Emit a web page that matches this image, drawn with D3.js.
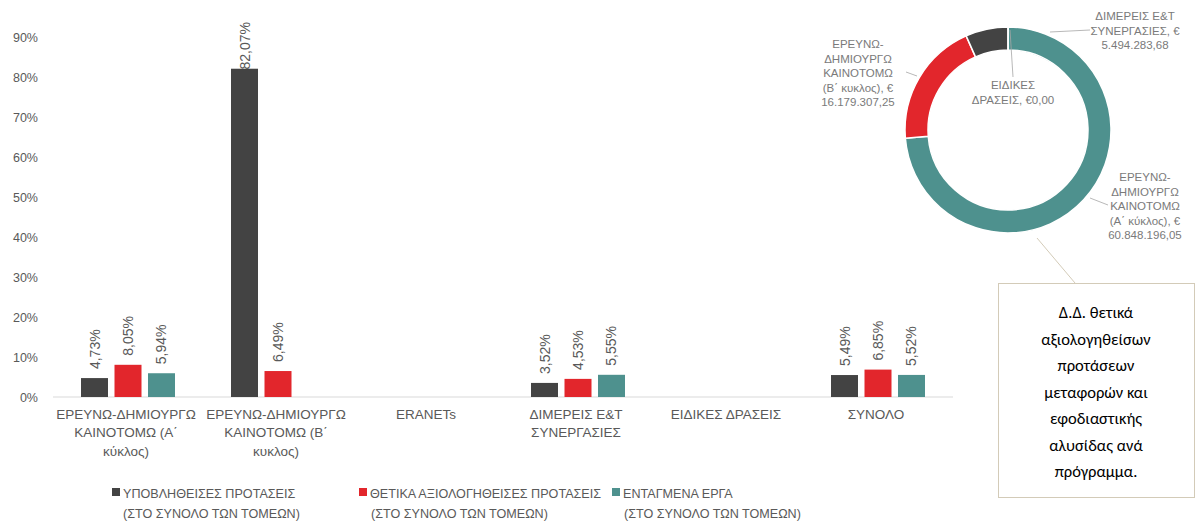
<!DOCTYPE html>
<html><head><meta charset="utf-8">
<script src="https://cdn.jsdelivr.net/npm/d3@7"></script>
<style>
body{margin:0;background:#fff;}
svg{display:block;}
text{font-family:"Liberation Sans",Arial,sans-serif;}
</style></head>
<body>
<svg id="c" width="1196" height="525"></svg>
<script>
// ---------- data ----------
const categories = [
  ["ΕΡΕΥΝΩ-ΔΗΜΙΟΥΡΓΩ","ΚΑΙΝΟΤΟΜΩ (Α΄","κύκλος)"],
  ["ΕΡΕΥΝΩ-ΔΗΜΙΟΥΡΓΩ","ΚΑΙΝΟΤΟΜΩ (Β΄","κυκλος)"],
  ["ERANETs"],
  ["ΔΙΜΕΡΕΙΣ Ε&Τ","ΣΥΝΕΡΓΑΣΙΕΣ"],
  ["ΕΙΔΙΚΕΣ ΔΡΑΣΕΙΣ"],
  ["ΣΥΝΟΛΟ"]
];
const seriesNames = [
  ["ΥΠΟΒΛΗΘΕΙΣΕΣ ΠΡΟΤΑΣΕΙΣ","(ΣΤΟ ΣΥΝΟΛΟ ΤΩΝ ΤΟΜΕΩΝ)"],
  ["ΘΕΤΙΚΑ ΑΞΙΟΛΟΓΗΘΕΙΣΕΣ ΠΡΟΤΑΣΕΙΣ","(ΣΤΟ ΣΥΝΟΛΟ ΤΩΝ ΤΟΜΕΩΝ)"],
  ["ΕΝΤΑΓΜΕΝΑ ΕΡΓΑ","(ΣΤΟ ΣΥΝΟΛΟ ΤΩΝ ΤΟΜΕΩΝ)"]
];
const submitted = [4.73, 82.07, null, 3.52, null, 5.49];
const positive  = [8.05, 6.49, null, 4.53, null, 6.85];
const funded    = [5.94, null, null, 5.55, null, 5.52];
const yTicks = [0,10,20,30,40,50,60,70,80,90];

const donutLabels = [
  ["ΕΡΕΥΝΩ-","ΔΗΜΙΟΥΡΓΩ","ΚΑΙΝΟΤΟΜΩ","(Α΄ κύκλος), €","60.848.196,05"],
  ["ΕΡΕΥΝΩ-","ΔΗΜΙΟΥΡΓΩ","ΚΑΙΝΟΤΟΜΩ","(Β΄ κυκλος), €","16.179.307,25"],
  ["ΔΙΜΕΡΕΙΣ Ε&Τ","ΣΥΝΕΡΓΑΣΙΕΣ, €","5.494.283,68"],
  ["ΕΙΔΙΚΕΣ","ΔΡΑΣΕΙΣ, €0,00"]
];
const donutValues = [60848196.05, 16179307.25, 5494283.68, 0];
const calloutLines = ["Δ.Δ. θετικά","αξιολογηθείσων","προτάσεων","μεταφορών και","εφοδιαστικής","αλυσίδας ανά","πρόγραμμα."];

// ---------- styles ----------
const colors = ["#434343","#E2262C","#4E918E"];
const donutColors = ["#4E918E","#E2262C","#434343","#7f7f7f"];
const textGrey = "#595959";

const svg = d3.select("#c");

// ---------- bar chart ----------
const seriesData = [submitted, positive, funded];
const x = d3.scaleBand().domain(d3.range(categories.length)).range([53, 953]);
const xs = d3.scaleBand().domain([0,1,2]).range([0,94]).paddingInner(0.194);
const y = d3.scaleLinear().domain([0,90]).range([397,37]);

// y axis labels
const yAxis = d3.axisLeft(y).tickValues(yTicks).tickFormat(d => d + "%").tickSize(0).tickPadding(0);
const yg = svg.append("g").attr("transform","translate(38,0)").call(yAxis);
yg.select(".domain").remove();
yg.selectAll("text").attr("fill", textGrey).style("font-size","12.5px").style("font-family","Liberation Sans, Arial, sans-serif");

// baseline
svg.append("line").attr("x1",53).attr("x2",953).attr("y1",y(0)).attr("y2",y(0))
  .attr("stroke","#d9d9d9").attr("stroke-width",1);

// bars
seriesData.forEach((vals, si) => {
  vals.forEach((v, ci) => {
    if (v == null) return;
    const bx = x(ci) + x.bandwidth()/2 - 47 + xs(si);
    svg.append("rect").attr("x", bx).attr("y", y(v)).attr("width", xs.bandwidth())
      .attr("height", y(0) - y(v)).attr("fill", colors[si]);
  });
});
// bar labels
seriesData.forEach((vals, si) => {
  vals.forEach((v, ci) => {
    if (v == null) return;
    const cx = x(ci) + x.bandwidth()/2 - 47 + xs(si) + xs.bandwidth()/2;
    const t = svg.append("text").attr("text-anchor","start").attr("dominant-baseline","central")
      .attr("fill", textGrey).style("font-size","14px")
      .text(d3.format(".2f")(v).replace(".", ",") + "%");
    const len = t.node().getComputedTextLength();
    let by = y(v) - 9;
    if (by - len < 22) by = 22 + len;
    t.attr("transform", `translate(${cx},${by}) rotate(-90)`);
  });
});

// x labels
categories.forEach((lines, ci) => {
  const cx = x(ci) + x.bandwidth()/2 - 2;
  const t = svg.append("text").attr("text-anchor","middle").attr("fill", textGrey).style("font-size","13.5px");
  lines.forEach((l, i) => t.append("tspan").attr("x", cx).attr("y", 418.5 + i*18.5).text(l));
});

// legend
const legendX = [112, 359, 612];
seriesNames.forEach((lines, si) => {
  const lx = legendX[si];
  svg.append("rect").attr("x", lx).attr("y", 488).attr("width", 8).attr("height", 8).attr("fill", colors[si]);
  svg.append("text").attr("x", lx + 11).attr("y", 497.5).attr("fill", textGrey).style("font-size","12.6px").text(lines[0]);
  svg.append("text").attr("x", lx + (si === 0 ? 11 : 12)).attr("y", 517.5).attr("fill", textGrey).style("font-size","12.6px").text(lines[1]);
});

// ---------- donut ----------
const dcx = 1008, dcy = 130;
const pie = d3.pie().sort(null).value(d => d);
const arc = d3.arc().innerRadius(80).outerRadius(103);
const dg = svg.append("g").attr("transform", `translate(${dcx},${dcy})`);
dg.selectAll("path").data(pie(donutValues)).enter().append("path")
  .attr("d", arc).attr("fill", (d,i) => donutColors[i]).attr("stroke","#fff").attr("stroke-width",1.5);

// donut labels
const dlPos = [[1145,181],[858,48],[1135,20],[1013,89]];
donutLabels.forEach((lines, i) => {
  const t = svg.append("text").attr("text-anchor","middle").attr("fill","#7a7a7a").style("font-size","11.5px");
  lines.forEach((l, k) => t.append("tspan").attr("x", dlPos[i][0]).attr("y", dlPos[i][1] + k*14.6).text(l));
});
// leader lines
const leaders = [
  [[1090,198],[1108,205]],
  [[906,72],[917,76]],
  [[1050,32],[1090,30]],
  [[1010,30],[1013,77]]
];
leaders.forEach(p => svg.append("path").attr("d", d3.line()(p)).attr("stroke","#a6a6a6").attr("fill","none").attr("stroke-width",0.8));

// ---------- callout ----------
svg.append("path").attr("d", d3.line()([[1037,238],[1075,283]])).attr("stroke","#d3cbb8").attr("stroke-width",1).attr("fill","none");
svg.append("rect").attr("x",998.5).attr("y",283.5).attr("width",196).attr("height",214)
  .attr("fill","#fff").attr("stroke","#d3cbb8").attr("stroke-width",1);
const ct = svg.append("text").attr("text-anchor","middle").attr("fill","#000").style("font-size","16.5px")
  .style("font-family","Carlito, 'Open Sans', 'Liberation Sans', sans-serif");
calloutLines.forEach((l, i) => ct.append("tspan").attr("x", 1096).attr("y", 318 + i*26.5).text(l));
</script>
</body></html>
